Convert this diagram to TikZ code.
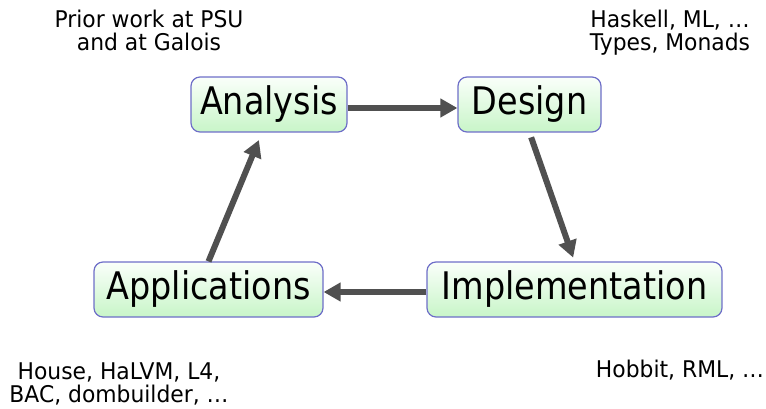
\documentclass[tikz,border=0pt]{standalone}
\usepackage{fontspec}
\setmainfont{DejaVu Sans}
\usetikzlibrary{arrows.meta}
\definecolor{boxline}{RGB}{110,110,200}
\definecolor{boxtop}{RGB}{250,255,250}
\definecolor{boxbot}{RGB}{200,245,200}
\definecolor{arr}{RGB}{80,80,80}
\newcommand{\sq}[1]{\scalebox{0.88}[1]{#1}}
\newcommand{\sn}[1]{\scalebox{0.95}[1]{#1}}
\begin{document}
\begin{tikzpicture}[x=1pt,y=-1pt,
  stage/.style={draw=boxline, line width=1.2pt, rounded corners=9pt,
    top color=boxtop, bottom color=boxbot, minimum height=55pt, inner sep=0pt,
    font=\fontsize{38}{40}\selectfont},
  note/.style={align=center, inner sep=0pt, font=\fontsize{23}{23.5}\selectfont},
  flow/.style={draw=arr, line width=6pt, -{Triangle[length=17pt,width=18pt]}}]
\useasboundingbox (0,0) rectangle (766,409);
\node[stage, minimum width=156pt] (analysis) at (269,104.5) {\sq{Analysis}};
\node[stage, minimum width=143pt] (design) at (529.5,104.5) {\sq{Design}};
\node[stage, minimum width=229pt] (apps) at (208.5,289.5) {\sq{Applications}};
\node[stage, minimum width=295pt] (impl) at (574.5,289.5) {\sq{Implementation}};
\node[note, anchor=north] (prior) at (149,9.5) {\sn{Prior work at PSU}\\\sn{and at Galois}};
\node[note, anchor=north] (haskell) at (670,9.5) {\sn{Haskell, ML, …}\\\sn{Types, Monads}};
\node[note, anchor=base] (hobbit) at (680,377) {\sn{Hobbit, RML, …}};
\node[note, anchor=north] (house) at (119,362.5) {\sn{House, HaLVM, L4,}\\\sn{BAC, dombuilder, …}};
\draw[flow] ([yshift=-3.5pt]analysis.east) -- ([yshift=-3.5pt]design.west);
\draw[flow, shorten <=5pt, shorten >=4pt] (design.south) -- (impl.north);
\draw[flow] ([yshift=-2.5pt]impl.west) -- ([yshift=-2.5pt]apps.east);
\draw[flow, shorten >=8pt] (apps.north) -- ([xshift=-7pt]analysis.south);
\end{tikzpicture}
\end{document}
